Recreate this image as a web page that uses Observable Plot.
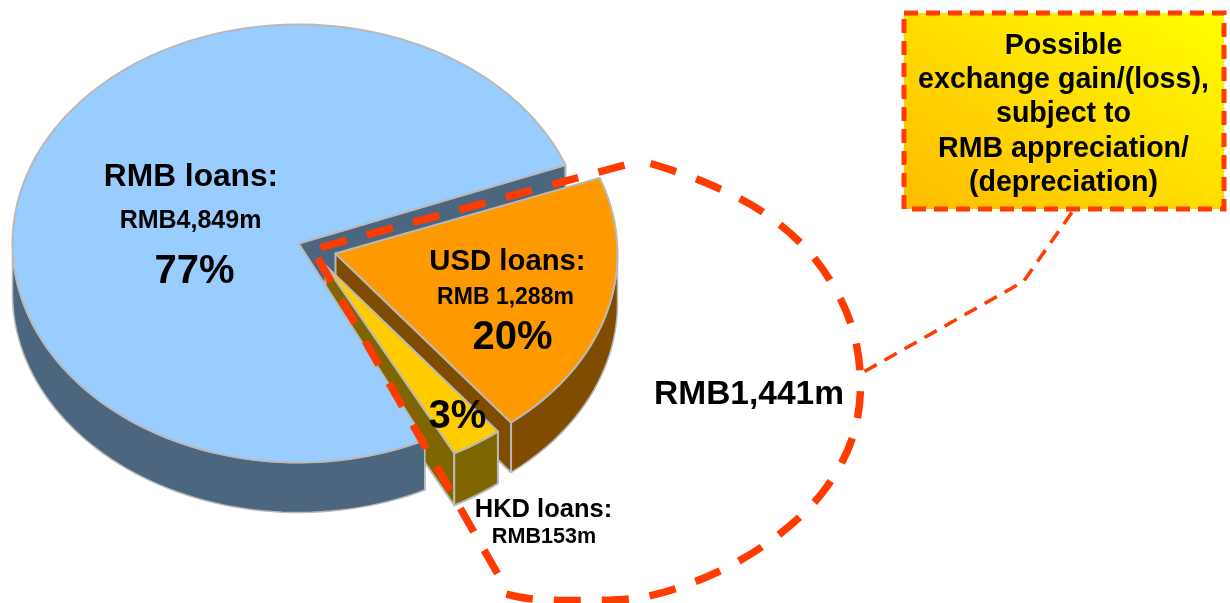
<!DOCTYPE html>
<html>
<head>
<meta charset="utf-8">
<style>html,body{margin:0;padding:0;background:#fff}svg{display:block;filter:blur(0.4px)}</style>
<script src="https://cdn.jsdelivr.net/npm/d3@7"></script>
<script src="https://cdn.jsdelivr.net/npm/@observablehq/plot@0.6"></script>
</head>
<body>
<div id="chart"></div>
<script>
// ---- values
const categories = ["RMB", "USD", "HKD"];
const shares = [77, 20, 3];
const amounts = ["RMB4,849m", "RMB 1,288m", "RMB153m"];
const calloutTotal = "RMB1,441m";
const calloutLines = ["Possible", "exchange gain/(loss),", "subject to", "RMB appreciation/", "(depreciation)"];

// ---- projection of the tilted pie
const ratio = 219 / 286, depth = 50, hkdDepth = 52;
const pt = (c, r, deg, drop = 0) => ({
  x: c[0] + r * Math.cos(deg * Math.PI / 180),
  y: c[1] - r * ratio * Math.sin(deg * Math.PI / 180) + drop
});
const arc = (c, r, a0, a1, drop = 0) => {
  const n = Math.max(2, Math.ceil(Math.abs(a1 - a0) / 2));
  return d3.range(n + 1).map(i => pt(c, r, a0 + (a1 - a0) * i / n, drop));
};
const apex = (c, drop = 0) => ({x: c[0], y: c[1] + drop});
const closed = p => [...p, p[0]];
const EDGE = "#b9b9b9";
const poly = (p, fill, strokeWidth = 2, stroke = EDGE) =>
  Plot.line(closed(p), {x: "x", y: "y", fill, stroke, strokeWidth, strokeLinejoin: "miter", curve: "linear"});

const cR = [298, 243], rR = 286;
const cU = [335, 253], rU = 282;
const cH = [325, 265], rH = 277;

const rStart = 21, rEnd = 19 + shares[0] * 3.6;
const uStart = 20.5, uEnd = uStart - shares[1] * 3.6;
const hStart = uEnd, hEnd = hStart - shares[2] * 3.6;

const colors = {
  RMB: {top: "#99ccff", wall: "#4d6680"},
  USD: {top: "#ff9900", wall: "#804d00"},
  HKD: {top: "#ffcc00", wall: "#806600"}
};

const rmbBackWall = [apex(cR), pt(cR, rR, rStart), pt(cR, rR, rStart, depth), apex(cR, depth)];
const rmbInnerWall = [apex(cR), pt(cR, rR, rEnd), pt(cR, rR, rEnd, depth), apex(cR, depth)];
const rmbOuterWall = [...arc(cR, rR, 180, rEnd), ...arc(cR, rR, rEnd, 180, depth)];
const rmbTop = [apex(cR), ...arc(cR, rR, rStart, rEnd)];

const usdTop = [apex(cU), ...arc(cU, rU, uStart, uEnd)];
const usdInner = [apex(cU), pt(cU, rU, uEnd), pt(cU, rU, uEnd, depth), apex(cU, depth)];
const usdOuter = [...arc(cU, rU, 0, uEnd), ...arc(cU, rU, uEnd, 0, depth)];

const hkdTop = [apex(cH), ...arc(cH, rH, hStart, hEnd)];
const hkdLeft = [apex(cH), pt(cH, rH, hEnd), pt(cH, rH, hEnd, hkdDepth), apex(cH, hkdDepth)];
const hkdFront = [...arc(cH, rH, hStart, hEnd), ...arc(cH, rH, hEnd, hStart, hkdDepth)];

// hand-drawn dashed outline: upper edge, curved side, lower edge
const toPoints = (xs, ys) => xs.map((x, i) => ({x, y: ys[i]}));
const ringTop = toPoints([320, 626], [247, 164]);
const ringArc = toPoints(
  [650, 700, 763, 815, 850, 860, 851, 822, 776, 716, 646, 577, 528, 503],
  [163, 180, 212, 259, 322, 385, 440, 492, 536, 572, 596, 600, 598, 593]);
const ringLow = toPoints([497, 317], [573, 257]);
const leader = toPoints([864, 1023, 1072], [371, 281, 211]);
const box = {x1: 904, x2: 1224, y1: 13, y2: 209};

const RED = "#ff3b00";
const font = "Liberation Sans, Arial, sans-serif";
const label = (text, x, y, fontSize) =>
  Plot.text([text], {x: () => x, y: () => y, text: d => d, fontSize, fontWeight: "bold", fontFamily: font,
    fill: "#000", textAnchor: "middle", lineAnchor: "middle"});
const dashed = (p, curve) =>
  Plot.line(p, {x: "x", y: "y", stroke: RED, strokeWidth: 7.5, strokeDasharray: "27,21", curve, strokeLinecap: "butt"});

const gradient = () => {
  const defs = d3.create("svg:defs");
  const g = defs.append("linearGradient").attr("id", "boxFill")
    .attr("x1", 0).attr("y1", 1).attr("x2", 1).attr("y2", 0);
  g.append("stop").attr("offset", "0%").attr("stop-color", "#ffbb00");
  g.append("stop").attr("offset", "100%").attr("stop-color", "#ffff00");
  return defs.node();
};

const plot = Plot.plot({
  width: 1230, height: 603, margin: 0,
  x: {domain: [0, 1230], range: [0, 1230], axis: null},
  y: {domain: [0, 603], range: [0, 603], axis: null},
  style: {background: "#fff"},
  marks: [
    gradient,
    poly(rmbBackWall, colors.RMB.wall),
    poly(rmbInnerWall, colors.RMB.wall),
    poly(usdOuter, colors.USD.wall, 1.5),
    poly(usdInner, colors.USD.wall),
    poly(usdTop, colors.USD.top),
    poly(hkdLeft, colors.HKD.wall),
    poly(rmbOuterWall, colors.RMB.wall, 1.5),
    poly(rmbTop, colors.RMB.top),
    poly(hkdFront, colors.HKD.wall),
    poly(hkdTop, colors.HKD.top),

    dashed(ringTop, "linear"),
    dashed(ringArc, "catmull-rom"),
    dashed(ringLow, "linear"),
    Plot.line(leader, {x: "x", y: "y", stroke: RED, strokeWidth: 3.5, strokeDasharray: "14,9", curve: "linear", strokeLinecap: "butt"}),
    Plot.rect([box], {x1: "x1", x2: "x2", y1: "y1", y2: "y2", fill: "url(#boxFill)", stroke: RED, strokeWidth: 5, strokeDasharray: "14,8"}),

    label(categories[0] + " loans:", 190.5, 175, 31.7),
    label(amounts[0], 190, 219, 25),
    label(shares[0] + "%", 194, 270, 40),
    label(categories[1] + " loans:", 507, 260, 29.3),
    label(amounts[1], 505, 296, 23),
    label(shares[1] + "%", 512, 336, 40),
    label(shares[2] + "%", 457, 415, 40),
    label(categories[2] + " loans:", 543, 508, 25.5),
    label(amounts[2], 543.5, 536, 21.6),
    label(calloutTotal, 748.5, 393, 33.5),
    ...calloutLines.map((t, i) => label(t, 1063, [44, 78, 112, 147, 181][i], 28.6))
  ]
});
document.getElementById("chart").append(plot);
</script>
</body>
</html>
